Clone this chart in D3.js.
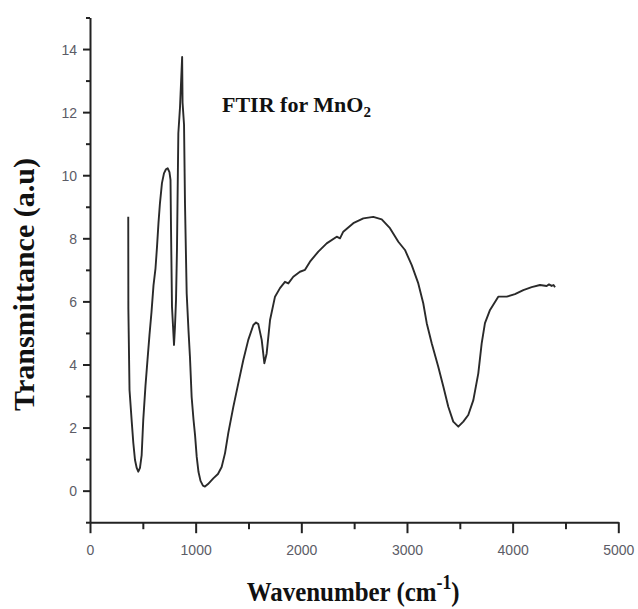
<!DOCTYPE html>
<html><head><meta charset="utf-8">
<script src="https://cdn.jsdelivr.net/npm/d3@7/dist/d3.min.js"></script>
<style>body{margin:0;background:#fff;}svg{display:block;}</style>
</head><body>
<svg id="c" width="638" height="609"></svg>
<script>
const wavenumber = [362,363,374,395,410,426,442,457,473,489,504,525,544,563,582,601,620,634,648,662,681,700,719,735,752,762,767,776,786,795,804,814,823,836,852,872,876,890,899,915,932,946,962,980,994,1010,1027,1046,1069,1088,1117,1167,1211,1246,1278,1309,1356,1404,1451,1498,1546,1571,1593,1625,1650,1672,1704,1751,1798,1845,1877,1924,1987,2035,2082,2161,2240,2335,2366,2397,2492,2587,2681,2761,2839,2918,2981,3045,3107,3154,3187,3234,3296,3344,3391,3438,3486,3533,3580,3628,3675,3707,3738,3786,3864,3944,4022,4101,4180,4259,4322,4344,4369,4387,4401];
const transmittance = [8.68,5.79,3.19,2.19,1.51,0.97,0.72,0.60,0.72,1.13,2.24,3.32,4.14,4.94,5.66,6.51,7.05,7.72,8.48,9.11,9.75,10.06,10.19,10.22,10.10,9.85,8.26,5.83,5.20,4.62,5.18,6.04,7.63,11.33,12.16,13.75,12.3,11.6,9.11,6.26,5.09,4.24,2.97,2.24,1.77,1.07,0.59,0.31,0.16,0.13,0.21,0.39,0.53,0.75,1.19,1.83,2.65,3.41,4.14,4.78,5.25,5.33,5.28,4.78,4.04,4.35,5.41,6.15,6.42,6.62,6.57,6.78,6.94,7.00,7.26,7.58,7.84,8.05,8.00,8.21,8.48,8.63,8.68,8.60,8.32,7.89,7.63,7.15,6.57,5.94,5.31,4.67,3.93,3.30,2.66,2.19,2.03,2.19,2.40,2.87,3.72,4.67,5.31,5.73,6.15,6.15,6.23,6.36,6.45,6.52,6.49,6.54,6.49,6.52,6.45];
const xMajorTicks = [0,1000,2000,3000,4000,5000];
const xMinorTicks = [500,1500,2500,3500,4500];
const yMajorTicks = [0,2,4,6,8,10,12,14];
const yMinorTicks = [-1,1,3,5,7,9,11,13,15];
const chartTitle = "FTIR for MnO";
const xTitle = "Wavenumber (cm";
const yTitle = "Transmittance (a.u)";

const svg = d3.select("#c");
const x = d3.scaleLinear().domain([0,5000]).range([90,618.3]);
const y = d3.scaleLinear().domain([-1,15]).range([522.2,17.5]);
const axisColor = "#222";

// curve
const line = d3.line().x((d,i)=>x(wavenumber[i])).y((d,i)=>y(transmittance[i]));
svg.append("path").datum(transmittance).attr("d", line)
  .attr("fill","none").attr("stroke","#2a2a2a").attr("stroke-width",1.9).attr("stroke-linejoin","round");

// x axis
const gx = svg.append("g").attr("transform",`translate(0,${y(-1)})`);
gx.call(d3.axisBottom(x).tickValues(xMajorTicks).tickSize(11).tickSizeOuter(0).tickFormat(d3.format("d")));
gx.append("g").call(d3.axisBottom(x).tickValues(xMinorTicks).tickSize(7).tickFormat("")).select(".domain").remove();
gx.selectAll("path,line").attr("stroke",axisColor).attr("stroke-width",2);
gx.selectAll("text").attr("font-family","'Liberation Sans', Arial, sans-serif").attr("font-size",14)
  .attr("fill","#5c5c66").attr("y",null).attr("dy",null).attr("transform","translate(0,33)");

// y axis
const gy = svg.append("g").attr("transform",`translate(${x(0)},0)`);
gy.call(d3.axisLeft(y).tickValues(yMajorTicks).tickSize(7).tickSizeOuter(0).tickFormat(d3.format("d")));
gy.append("g").call(d3.axisLeft(y).tickValues(yMinorTicks).tickSize(4).tickFormat("")).select(".domain").remove();
gy.selectAll("path,line").attr("stroke",axisColor).attr("stroke-width",2);
gy.selectAll("text").attr("font-family","'Liberation Sans', Arial, sans-serif").attr("font-size",14)
  .attr("fill","#5c5c66").attr("x",-13).attr("dy","0.36em");

const serif = "'Liberation Serif','Times New Roman',serif";

// chart title
const t = svg.append("text").attr("x",222).attr("y",111.7).attr("font-family",serif)
  .attr("font-weight","bold").attr("font-size",22).attr("fill","#111");
t.append("tspan").text(chartTitle);
t.append("tspan").attr("font-size",15).attr("dy",5).text("2");

// x title (horizontally condensed)
const gxt = svg.append("g");
const xt = gxt.append("text").attr("x",0).attr("y",0).attr("font-family",serif)
  .attr("font-weight","bold").attr("font-size",28).attr("fill","#111");
xt.append("tspan").text(xTitle);
xt.append("tspan").attr("font-size",20).attr("dy",-12).text("-1");
xt.append("tspan").attr("dy",12).text(")");
const bb = xt.node().getBBox();
const sx = 213 / bb.width;
gxt.attr("transform",`translate(246.7,601) scale(${sx},1)`);

// y title
svg.append("text").attr("transform",`translate(33.5,284.5) rotate(-90)`).attr("text-anchor","middle")
  .attr("font-family",serif).attr("font-weight","bold").attr("font-size",30).attr("fill","#111").text(yTitle);
</script>
</body></html>
